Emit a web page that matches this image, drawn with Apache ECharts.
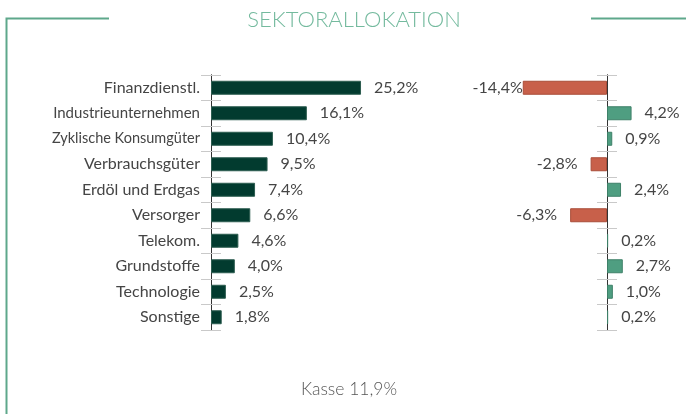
<!DOCTYPE html>
<html>
<head>
<meta charset="utf-8">
<script src="https://cdn.jsdelivr.net/npm/echarts@6/dist/echarts.min.js"></script>
<style>
html,body{margin:0;padding:0;background:#fff;}
#c{width:686px;height:414px;}
</style>
</head>
<body>
<div id="c"></div>
<script>
var titleText = 'SEKTORALLOKATION';
var categories = ['Finanzdienstl.', 'Industrieunternehmen', 'Zyklische Konsumgüter', 'Verbrauchsgüter', 'Erdöl und Erdgas', 'Versorger', 'Telekom.', 'Grundstoffe', 'Technologie', 'Sonstige'];
var weights = [25.2, 16.1, 10.4, 9.5, 7.4, 6.6, 4.6, 4.0, 2.5, 1.8];
var changes = [-14.4, 4.2, 0.9, -2.8, 2.4, -6.3, 0.2, 2.7, 1.0, 0.2];
var kasseLabel = 'Kasse';
var kasseValue = 11.9;

function fmt(v) { return v.toFixed(1).replace('.', ',') + '%'; }

var FONT = 'Lato, "Open Sans", sans-serif';
var TXT = '#454545';
var TICK = '#c9c9c9';
var LABEL_SIZE = 16;
var MAX_LABEL_W = 147;

// fit long category labels into the available width by shrinking them a little
var ctx = document.createElement('canvas').getContext('2d');
ctx.font = LABEL_SIZE + 'px ' + FONT;
var rich = {};
categories.forEach(function (c, i) {
  var w = ctx.measureText(c).width;
  var fs = w > MAX_LABEL_W ? Math.max(14.5, LABEL_SIZE * MAX_LABEL_W / w) : LABEL_SIZE;
  rich['l' + i] = {fontSize: fs, fontFamily: FONT, color: TXT};
});

var chart = echarts.init(document.getElementById('c'), null, {renderer: 'canvas'});

var rightData = changes.map(function (v) {
  var neg = v < 0;
  return {
    value: v,
    itemStyle: neg ? {color: '#c8604a', borderColor: '#a94d39', borderWidth: 1}
                   : {color: '#4f9e81', borderColor: '#3e8068', borderWidth: 1},
    label: {
      position: neg ? 'left' : 'right',
      distance: (neg && v < -10) ? 0 : 13
    }
  };
});

function catAxis(gridIndex, inside, showLabel, onZero, offset) {
  return {
    type: 'category',
    gridIndex: gridIndex,
    position: 'left',
    offset: offset || 0,
    data: categories,
    inverse: true,
    axisLine: {show: true, onZero: onZero, lineStyle: {color: '#333', width: 1}},
    axisTick: {show: true, inside: inside, length: 10, lineStyle: {color: TICK, width: 1}},
    axisLabel: {show: showLabel, margin: 11, color: TXT, fontFamily: FONT, fontSize: LABEL_SIZE,
      formatter: function (v, i) { return '{l' + i + '|' + v + '}'; }, rich: rich},
    splitLine: {show: false}
  };
}

var RIGHT_MIN = -16, RIGHT_MAX = 10, RIGHT_LEFT = 513.4, RIGHT_W = 152.1;
var zeroOffset = -RIGHT_W * (0 - RIGHT_MIN) / (RIGHT_MAX - RIGHT_MIN);

var option = {
  animation: false,
  backgroundColor: '#fff',
  grid: [
    {left: 211, top: 75, width: 178.6, height: 255, containLabel: false},
    {left: RIGHT_LEFT, top: 75, width: RIGHT_W, height: 255, containLabel: false}
  ],
  xAxis: [
    {type: 'value', gridIndex: 0, min: 0, max: 30, show: false},
    {type: 'value', gridIndex: 1, min: RIGHT_MIN, max: RIGHT_MAX, show: false}
  ],
  yAxis: [
    catAxis(0, false, true, false, 0),
    catAxis(0, true, false, false, 0),
    catAxis(1, false, false, false, zeroOffset),
    catAxis(1, true, false, false, zeroOffset)
  ],
  series: [
    {
      type: 'bar', xAxisIndex: 0, yAxisIndex: 0,
      data: weights, barWidth: 14,
      itemStyle: {color: '#023b2f', borderColor: '#2d5d50', borderWidth: 1},
      label: {show: true, position: 'right', distance: 13, color: TXT, fontFamily: FONT, fontSize: 16,
        formatter: function (p) { return fmt(p.value); }}
    },
    {
      type: 'bar', xAxisIndex: 1, yAxisIndex: 2,
      data: rightData, barWidth: 14, z: 1,
      label: {show: true, color: TXT, fontFamily: FONT, fontSize: 16,
        formatter: function (p) { return fmt(p.value); }}
    }
  ],
  graphic: [
    {type: 'polyline', shape: {points: [[6.5, 414], [6.5, 18.5], [109, 18.5]]},
     style: {stroke: '#5ea88b', lineWidth: 2, fill: null}},
    {type: 'line', shape: {x1: 591, y1: 18.5, x2: 686, y2: 18.5},
     style: {stroke: '#5ea88b', lineWidth: 2}},
    {type: 'text', x: 354, y: 20,
     style: {text: titleText, fill: '#74ba9e', font: '300 22px ' + FONT, textAlign: 'center', textVerticalAlign: 'middle'}},
    {type: 'text', x: 349, y: 389,
     style: {text: kasseLabel + ' ' + fmt(kasseValue), fill: '#555', font: '300 17.5px ' + FONT, textAlign: 'center', textVerticalAlign: 'middle'}}
  ]
};
chart.setOption(option);
</script>
</body>
</html>
